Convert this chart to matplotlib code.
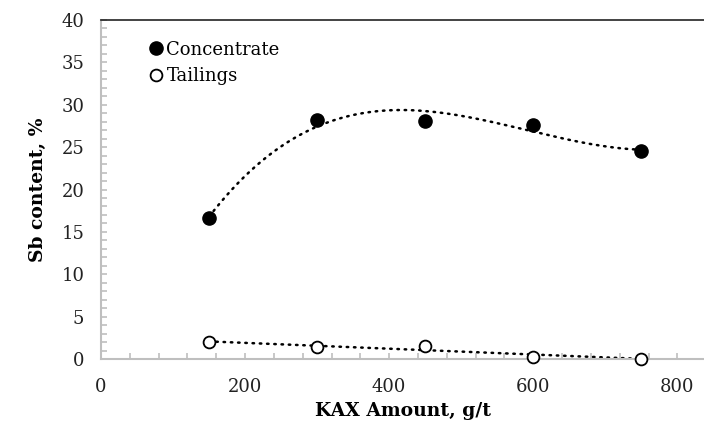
import numpy as np
import matplotlib.pyplot as plt
from matplotlib.ticker import MultipleLocator

# KAX collector dosage (g/t) and Sb content (%) in flotation products
kax_amount = [150, 300, 450, 600, 750]
concentrate = [16.6, 28.2, 28.1, 27.6, 24.5]
tailings = [2.0, 1.45, 1.5, 0.3, 0.0]

x_ticks = [0, 200, 400, 600, 800]
y_ticks = [0, 5, 10, 15, 20, 25, 30, 35, 40]

plt.rcParams['font.family'] = ['DejaVu Serif']

fig = plt.figure(figsize=(7.04, 4.30), dpi=100)
ax = fig.add_axes([0.1435, 0.165, 0.8565, 0.7885])

# trend lines: cubic for the concentrate, linear for the tailings
xs = np.linspace(min(kax_amount), max(kax_amount), 300)
conc_fit = np.polyval(np.polyfit(kax_amount, concentrate, 3), xs)
tail_fit = np.polyval(np.polyfit(kax_amount, tailings, 1), xs)

dot_style = dict(color='black', linewidth=1.8, linestyle=(0, (0.6, 2.3)),
                 dash_capstyle='round', zorder=2, clip_on=False)
ax.plot(xs, conc_fit, **dot_style)
ax.plot(xs, tail_fit, **dot_style)

ax.plot(kax_amount, concentrate, 'o', markersize=9.5, color='black',
        linestyle='none', label='Concentrate', zorder=3)
ax.plot(kax_amount, tailings, 'o', markersize=8.5, markerfacecolor='white',
        markeredgecolor='black', markeredgewidth=1.3, linestyle='none',
        label='Tailings', zorder=3, clip_on=False)

ax.set_xlim(0, 837)
ax.set_ylim(0, 40)
ax.set_xticks(x_ticks)
ax.set_yticks(y_ticks)
ax.xaxis.set_minor_locator(MultipleLocator(40))
ax.yaxis.set_minor_locator(MultipleLocator(1))

grey = '#bfbfbf'
for side in ('left', 'bottom'):
    ax.spines[side].set_color(grey)
    ax.spines[side].set_linewidth(1.5)
ax.spines['top'].set_color('#222222')
ax.spines['top'].set_linewidth(1.2)
ax.spines['right'].set_visible(False)

ax.tick_params(axis='both', which='both', direction='in', color=grey,
               labelsize=13, labelcolor='#222222', width=1.2, length=4.5)
ax.tick_params(axis='x', which='major', pad=14)
ax.tick_params(axis='y', which='major', pad=12)

ax.set_xlabel('KAX Amount, g/t', fontsize=13.5, fontweight='bold', labelpad=4)
ax.set_ylabel('Sb content, %', fontsize=13.5, fontweight='bold', labelpad=10)

ax.legend(loc='upper left', bbox_to_anchor=(0.065, 0.96), frameon=False,
          fontsize=13, handletextpad=0.05, handlelength=1.0,
          labelspacing=0.45, borderaxespad=0)

fig.savefig('out.png', dpi=100)
